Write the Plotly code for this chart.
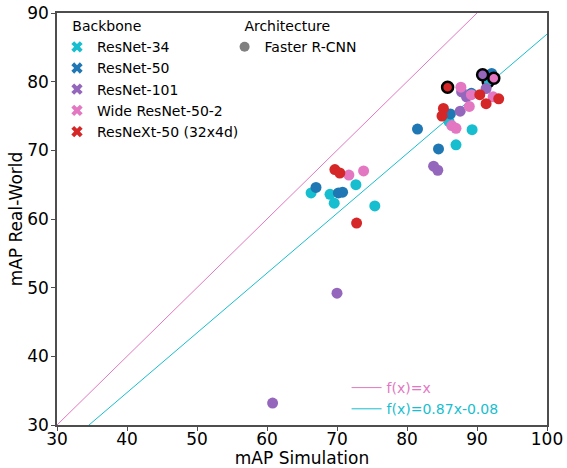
import plotly.graph_objects as go

# ---- data ----
backbones = ["ResNet-34", "ResNet-50", "ResNet-101", "Wide ResNet-50-2", "ResNeXt-50 (32x4d)"]
colors = ["#17becf", "#1f77b4", "#9467bd", "#e377c2", "#d62728"]

resnet34_sim = [91.6, 86.0, 89.3, 87.0, 66.3, 69.0, 72.7, 69.6, 75.4]
resnet34_real = [80.0, 74.2, 73.0, 70.8, 63.8, 63.6, 65.0, 62.3, 61.9]
resnet34_best = [1, 0, 0, 0, 0, 0, 0, 0, 0]

resnet50_sim = [92.1, 89.2, 86.2, 81.5, 84.5, 67.0, 70.2, 70.8]
resnet50_real = [81.2, 78.3, 75.3, 73.1, 70.2, 64.6, 63.8, 63.9]
resnet50_best = [0, 0, 0, 0, 0, 0, 0, 0]

resnet101_sim = [90.8, 91.3, 87.8, 88.5, 87.6, 83.8, 84.4, 70.0, 60.8]
resnet101_real = [81.0, 79.0, 78.5, 77.8, 75.7, 67.7, 67.1, 49.2, 33.2]
resnet101_best = [1, 0, 0, 0, 0, 0, 0, 0, 0]

wide_sim = [92.4, 87.7, 89.2, 92.3, 88.9, 86.4, 87.0, 71.7, 73.8]
wide_real = [80.5, 79.2, 78.1, 77.8, 76.4, 73.6, 73.2, 66.4, 67.0]
wide_best = [1, 0, 0, 0, 0, 0, 0, 0, 0]

resnext_sim = [85.8, 90.4, 91.3, 93.1, 85.2, 85.0, 69.7, 70.4, 72.8]
resnext_real = [79.2, 78.1, 76.8, 77.5, 76.1, 75.0, 67.2, 66.7, 59.4]
resnext_best = [1, 0, 0, 0, 0, 0, 0, 0, 0]

sims = [resnet34_sim, resnet50_sim, resnet101_sim, wide_sim, resnext_sim]
reals = [resnet34_real, resnet50_real, resnet101_real, wide_real, resnext_real]
bests = [resnet34_best, resnet50_best, resnet101_best, wide_best, resnext_best]

architectures = ["Faster R-CNN"]
fit_slope = 0.87
fit_intercept = -0.08
line_x = [30, 100]

fig = go.Figure()

# reference lines
fig.add_trace(go.Scatter(
    x=line_x, y=line_x, mode="lines",
    line=dict(color="#e377c2", width=1),
    name="<span style='color:#e377c2'>f(x)=x</span>", legend="legend3"))
fig.add_trace(go.Scatter(
    x=line_x, y=[fit_slope * v + fit_intercept for v in line_x], mode="lines",
    line=dict(color="#17becf", width=1),
    name="<span style='color:#17becf'>f(x)=0.87x-0.08</span>", legend="legend3"))

# data points
for name, col, xs, ys, bs in zip(backbones, colors, sims, reals, bests):
    fig.add_trace(go.Scatter(
        x=xs, y=ys, mode="markers", showlegend=False, name=name,
        marker=dict(size=11, color=col, symbol="circle",
                    line=dict(width=[2.5 if b else 0 for b in bs],
                              color=["black" if b else col for b in bs]))))

# legend entries: backbones
for name, col in zip(backbones, colors):
    fig.add_trace(go.Scatter(
        x=[None], y=[None], mode="markers", name=name, legend="legend",
        marker=dict(size=10, color=col, symbol="x")))

# legend entries: architecture
for a in architectures:
    fig.add_trace(go.Scatter(
        x=[None], y=[None], mode="markers", name=a, legend="legend2",
        marker=dict(size=10, color="gray", symbol="circle")))

font_family = "DejaVu Sans"
axis_common = dict(
    showgrid=False, zeroline=False, showline=True, mirror=True,
    linecolor="#4d4d4d", linewidth=1.5, ticks="outside", ticklen=4,
    tickcolor="#4d4d4d", tickfont=dict(size=17, color="black"),
    dtick=10, automargin=False, ticklabeloverflow="allow",
)

fig.update_layout(
    width=567, height=468,
    margin=dict(l=57, r=20, t=13, b=43),
    paper_bgcolor="white", plot_bgcolor="white",
    font=dict(family=font_family, color="black"),
    xaxis=dict(range=[30, 100], ticklabelstandoff=-6,
               title=dict(text="mAP Simulation", font=dict(size=17), standoff=0), **axis_common),
    yaxis=dict(range=[30, 90], ticklabelstandoff=-1,
               title=dict(text="mAP Real-World", font=dict(size=17), standoff=0), **axis_common),
    legend=dict(x=0.0, y=1.0, xanchor="left", yanchor="top",
                title=dict(text="&nbsp;&nbsp;&nbsp;Backbone", font=dict(size=14)),
                font=dict(size=14), bgcolor="rgba(0,0,0,0)", tracegroupgap=0,
                itemwidth=30),
    legend2=dict(x=0.342, y=1.0, xanchor="left", yanchor="top",
                 title=dict(text="&nbsp;&nbsp;&nbsp;&nbsp;Architecture", font=dict(size=14)),
                 font=dict(size=14), bgcolor="rgba(0,0,0,0)", itemwidth=30),
    legend3=dict(x=0.591, y=0.0, xanchor="left", yanchor="bottom",
                 font=dict(size=14), bgcolor="rgba(0,0,0,0)", itemwidth=30),
)

fig.write_html("out.html", config={"displayModeBar": False},
               post_script="document.body.style.margin='0';")
